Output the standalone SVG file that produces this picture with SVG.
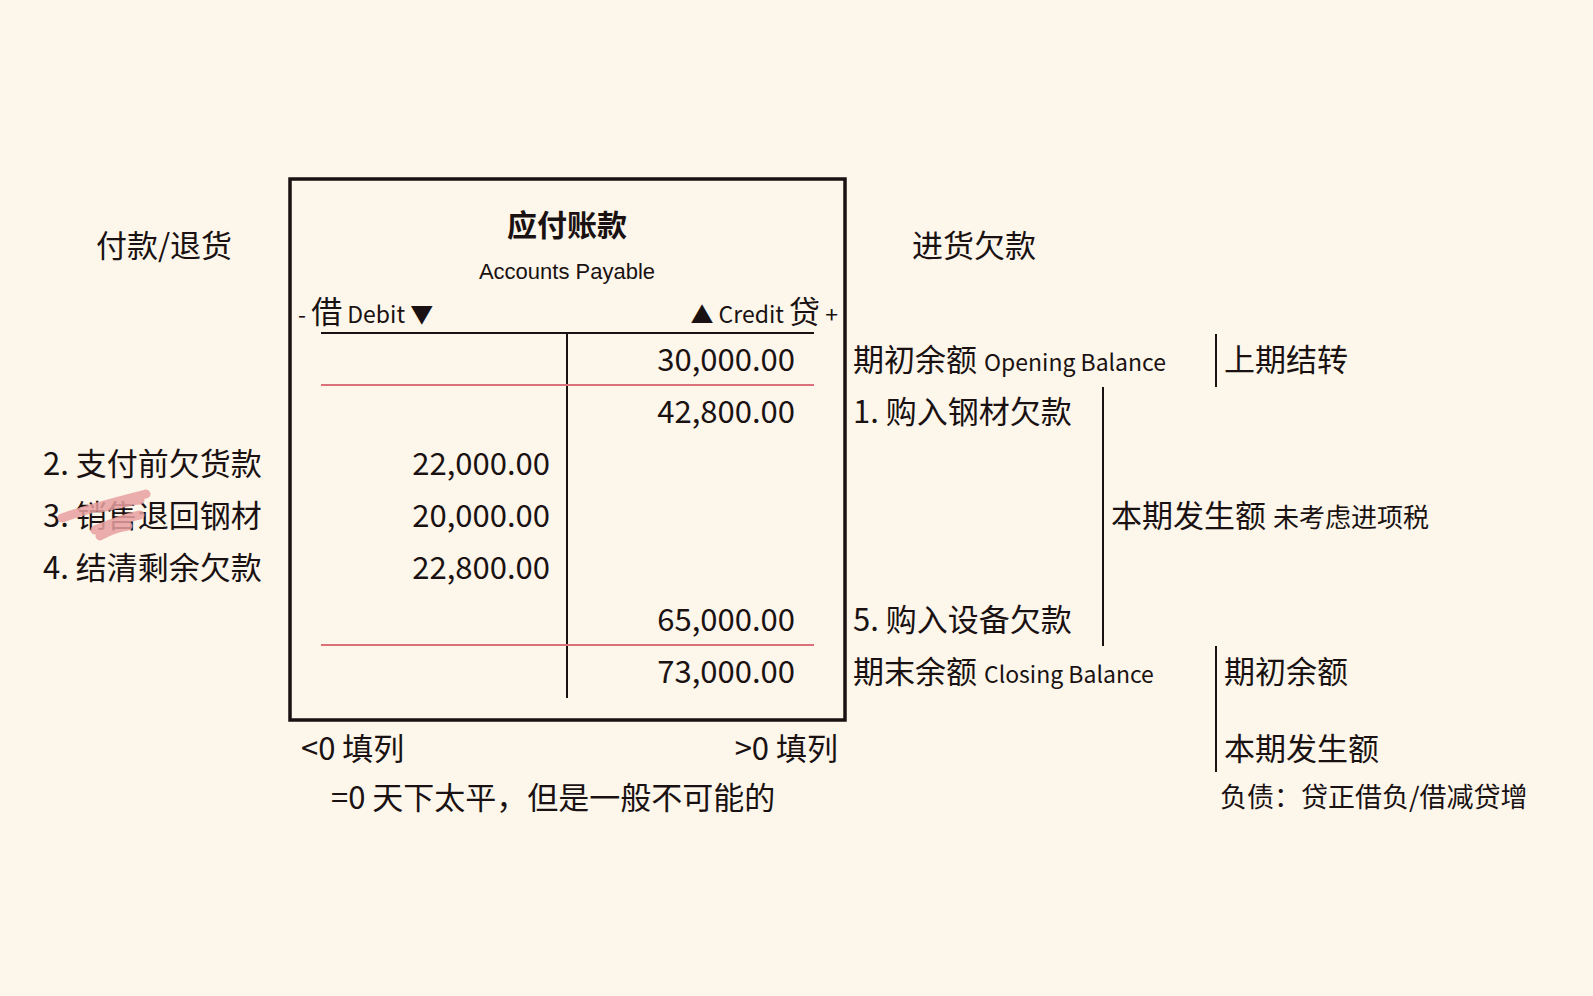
<svg xmlns="http://www.w3.org/2000/svg" width="1593" height="996" viewBox="0 0 1593 996">
<style>
text{font-family:"Noto Sans CJK SC","Noto Sans",sans-serif;fill:#1a1212}
.n{font-size:31px}
.s{font-size:23px}
.l{fill:none;stroke:#1a1212;stroke-width:2}
.p{stroke:#d9707a;stroke-width:2}
</style>
<rect width="1593" height="996" fill="#fdf6ea"/>
<g id="account">
<rect x="290" y="179" width="555" height="541" fill="none" stroke="#1a1212" stroke-width="3.5"/>
<text x="567" y="236" font-size="30" font-weight="bold" text-anchor="middle">应付账款</text>
<text x="567" y="279" font-size="22" text-anchor="middle" style="font-family:'Liberation Sans',sans-serif">Accounts Payable</text>
<text x="298" y="323" class="s">-  <tspan font-size="31">借</tspan> Debit ▼</text>
<text x="838" y="323" class="s" text-anchor="end">▲ Credit <tspan font-size="31">贷</tspan> +</text>
<line x1="321" y1="333" x2="814" y2="333" class="l"/>
<line x1="567" y1="333" x2="567" y2="698" class="l"/>
<line x1="321" y1="385" x2="814" y2="385" class="p"/>
<line x1="321" y1="645" x2="814" y2="645" class="p"/>
<g class="n" text-anchor="end">
<text x="795" y="371" class="n" text-anchor="end">30,000.00</text>
<text x="795" y="423" class="n" text-anchor="end">42,800.00</text>
<text x="550" y="475" class="n" text-anchor="end">22,000.00</text>
<text x="550" y="527" class="n" text-anchor="end">20,000.00</text>
<text x="550" y="579" class="n" text-anchor="end">22,800.00</text>
<text x="795" y="631" class="n" text-anchor="end">65,000.00</text>
<text x="795" y="683" class="n" text-anchor="end">73,000.00</text>
</g>
</g>
<g id="left">
<text x="164" y="257" class="n" text-anchor="middle">付款/退货</text>
<text x="43" y="475" class="n">2. 支付前欠货款</text>
<text x="43" y="527" class="n">3. 销售退回钢材</text>
<text x="43" y="579" class="n">4. 结清剩余欠款</text>
<path d="M62 518 C90 508 130 498 146 494 M100 508 C115 505 135 500 140 500 M95 530 C115 522 130 517 140 515 M100 536 C110 530 120 527 128 526" fill="none" stroke="#e8a0a0" stroke-width="9" stroke-linecap="round" opacity="0.85"/>
</g>
<g id="right">
<text x="974" y="257" class="n" text-anchor="middle">进货欠款</text>
<text x="853" y="371" class="n">期初余额 <tspan font-size="23">Opening Balance</tspan></text>
<text x="853" y="423" class="n">1. 购入钢材欠款</text>
<text x="853" y="631" class="n">5. 购入设备欠款</text>
<text x="853" y="683" class="n">期末余额 <tspan font-size="23">Closing Balance</tspan></text>
<text x="1224" y="371" class="n">上期结转</text>
<text x="1111" y="527" class="n">本期发生额 <tspan font-size="26">未考虑进项税</tspan></text>
<text x="1224" y="683" class="n">期初余额</text>
<text x="1224" y="760" class="n">本期发生额</text>
<text x="1220" y="807" font-size="27">负债：贷正借负/借减贷增</text>
</g>
<g id="bottom">
<text x="301" y="760" class="n">&lt;0 填列</text>
<text x="838" y="760" class="n" text-anchor="end">&gt;0 填列</text>
<text x="331" y="809" class="n">=0 天下太平，但是一般不可能的</text>
</g>
<g id="connectors">
<line x1="1216" y1="334" x2="1216" y2="387" class="l"/>
<line x1="1103" y1="387" x2="1103" y2="646" class="l"/>
<line x1="1216" y1="646" x2="1216" y2="772" class="l"/>
</g>
</svg>
